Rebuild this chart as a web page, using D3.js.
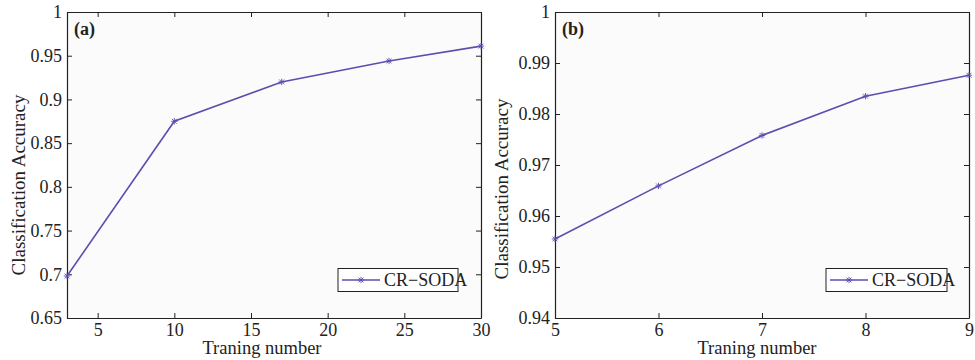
<!DOCTYPE html>
<html><head><meta charset="utf-8">
<script src="https://cdn.jsdelivr.net/npm/d3@7"></script>
<style>
body{margin:0;background:#fff;}
svg{display:block;}
svg text{font-family:"Liberation Serif","Times New Roman","DejaVu Serif",serif !important;}
</style></head>
<body><svg id="c" width="975" height="360"></svg>
<script>
// Panel (a)
const xA = [3, 10, 17, 24, 30];
const yA = [0.698, 0.875, 0.920, 0.944, 0.961];
const xTicksA = [5, 10, 15, 20, 25, 30];
const yTicksA = [0.65, 0.7, 0.75, 0.8, 0.85, 0.9, 0.95, 1];
// Panel (b)
const xB = [5, 6, 7, 8, 9];
const yB = [0.9555, 0.9659, 0.9758, 0.9835, 0.9876];
const xTicksB = [5, 6, 7, 8, 9];
const yTicksB = [0.94, 0.95, 0.96, 0.97, 0.98, 0.99, 1];
const seriesName = "CR\u2212SODA";
const xLabel = "Traning number";
const yLabel = "Classification Accuracy";

const svg = d3.select("#c");
const col = "#5a4fb0";

function panel(o){
  const g = svg.append("g");
  const x = d3.scaleLinear().domain(o.xd).range([o.l, o.r]);
  const y = d3.scaleLinear().domain(o.yd).range([o.b, o.t]);
  g.append("rect").attr("x", o.l).attr("y", o.t).attr("width", o.r-o.l).attr("height", o.b-o.t)
    .attr("fill", "#fbfbfb");
  const tl = 5;
  const ax = g.append("g").attr("transform", `translate(0,${o.b})`)
    .call(d3.axisBottom(x).tickValues(o.xt).tickSize(-tl).tickSizeOuter(0).tickPadding(5).tickFormat(d3.format("d")));
  const axT = g.append("g").attr("transform", `translate(0,${o.t})`)
    .call(d3.axisTop(x).tickValues(o.xt).tickSize(-tl).tickSizeOuter(0).tickFormat(""));
  const ay = g.append("g").attr("transform", `translate(${o.l},0)`)
    .call(d3.axisLeft(y).tickValues(o.yt).tickSize(-tl).tickSizeOuter(0).tickPadding(5).tickFormat(o.fmt));
  const ayR = g.append("g").attr("transform", `translate(${o.r},0)`)
    .call(d3.axisRight(y).tickValues(o.yt).tickSize(-tl).tickSizeOuter(0).tickFormat(""));
  [ax, axT, ay, ayR].forEach(a => {
    a.attr("font-family", null);
    a.selectAll("path").attr("stroke", "#222").attr("stroke-width", 1.2);
    a.selectAll("line").attr("stroke", "#222").attr("stroke-width", 1);
    a.selectAll("text").attr("fill", "#222").attr("font-size", 18);
  });
  const pts = o.xs.map((d,i)=>[d, o.ys[i]]);
  g.append("path").datum(pts)
    .attr("d", d3.line().x(d=>x(d[0])).y(d=>y(d[1])))
    .attr("fill","none").attr("stroke", col).attr("stroke-width", 1.6);
  const star = (sel, cx, cy) => {
    const s = 3.2;
    sel.append("path")
      .attr("d", `M${cx-s},${cy}H${cx+s}M${cx},${cy-s}V${cy+s}M${cx-s*0.75},${cy-s*0.75}L${cx+s*0.75},${cy+s*0.75}M${cx-s*0.75},${cy+s*0.75}L${cx+s*0.75},${cy-s*0.75}`)
      .attr("stroke", col).attr("stroke-width", 0.9).attr("fill","none");
  };
  pts.forEach(d => star(g, x(d[0]), y(d[1])));
  g.append("text").attr("x", o.l+7).attr("y", o.t+23).attr("font-weight","bold")
    .attr("font-size", 18).attr("fill","#222").text(o.title);
  const lg = g.append("g");
  lg.append("rect").attr("x", o.lgx).attr("y", 268.5).attr("width", o.lgw).attr("height", 23)
    .attr("fill","#fff").attr("stroke","#222").attr("stroke-width", 1);
  lg.append("line").attr("x1", o.lgx+4).attr("x2", o.lgx+42).attr("y1", 280).attr("y2", 280)
    .attr("stroke", col).attr("stroke-width", 1.6);
  star(lg, o.lgx+23, 280);
  lg.append("text").attr("x", o.lgx+46).attr("y", 286).attr("font-size", 18).attr("fill","#222").text(seriesName);
  g.append("text").attr("x", o.xlc).attr("y", 354).attr("text-anchor","middle")
    .attr("font-size", 18.5).attr("fill","#222").text(xLabel);
  g.append("text").attr("transform", `translate(${o.yl},${o.ylc}) rotate(-90)`).attr("text-anchor","middle")
    .attr("font-size", 19).attr("fill","#222").text(yLabel);
}

panel({xs:xA, ys:yA, xd:[3,30], yd:[0.65,1], xt:xTicksA, yt:yTicksA, l:67, r:481, t:12, b:318,
  fmt: d => d3.format("")(+d.toFixed(2)), title:"(a)", lgx:338, lgw:120, yl:25, ylc:185, xlc:262});
panel({xs:xB, ys:yB, xd:[5,9], yd:[0.94,1], xt:xTicksB, yt:yTicksB, l:555, r:969, t:12, b:318,
  fmt: d => d3.format("")(+d.toFixed(2)), title:"(b)", lgx:826, lgw:121, yl:508, ylc:189, xlc:757});
</script></body></html>
